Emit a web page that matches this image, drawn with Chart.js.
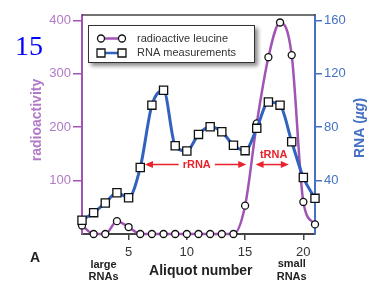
<!DOCTYPE html>
<html lang="en">
<head>
<meta charset="UTF-8">
<title>Radioactive leucine and RNA per aliquot</title>
<style>
  html, body { margin: 0; padding: 0; background: #fff; }
  #wrap { position: relative; width: 376px; height: 288px; }
</style>
</head>
<body>
<div id="wrap"><canvas id="chart" width="376" height="288"></canvas></div>
<script src="https://cdn.jsdelivr.net/npm/chart.js@4"></script>
<script>
// data
const aliquots = [1, 2, 3, 4, 5, 6, 7, 8, 9, 10, 11, 12, 13, 14, 15, 16, 17, 18, 19, 20, 21];
const leucine = [16, 0, 0, 24, 13, 0, 0, 0, 0, 0, 0, 0, 0, 0, 53, 207, 331, 396, 335, 60, 18];
const rnaUg = [10.3, 16, 23.2, 30.9, 27.2, 49.8, 96.5, 107.6, 66.1, 62.2, 74.6, 80.3, 76.6, 66.5, 62.4, 79.1, 98.9, 96.5, 69.1, 42.3, 26.7];
const xTicks = [5, 10, 15, 20];
const leftTicks = [100, 200, 300, 400];
const rightTicks = [40, 80, 120, 160];

const FONT = "'Liberation Sans', Arial, Helvetica, sans-serif";
const PURPLE = '#a054b4';
const PURPLE_TXT = '#b179c6';
const BLUE = '#3162be';
const BLUE_TXT = '#4471c4';
const RED = '#e8232b';
const DARK = '#222';

function arrowHead(ctx, x, y, dir) {
  ctx.beginPath();
  ctx.moveTo(x, y);
  ctx.lineTo(x - dir * 8, y - 3.5);
  ctx.lineTo(x - dir * 8, y + 3.5);
  ctx.closePath();
  ctx.fill();
}

function marker(ctx, style, cx, cy) {
  ctx.fillStyle = '#fff';
  ctx.strokeStyle = '#111';
  ctx.lineWidth = 1.3;
  ctx.beginPath();
  if (style === 'circle') ctx.arc(cx, cy, 3.5, 0, Math.PI * 2);
  else ctx.rect(cx - 4, cy - 4, 8, 8);
  ctx.fill();
  ctx.stroke();
}

const overlay = {
  id: 'overlay',
  afterDraw(chart) {
    const ctx = chart.ctx;
    const a = chart.chartArea;
    const x = chart.scales.x;
    const y = chart.scales.y;
    ctx.save();

    // top of the frame
    ctx.strokeStyle = '#444';
    ctx.lineWidth = 1.5;
    ctx.beginPath();
    ctx.moveTo(a.left, a.top);
    ctx.lineTo(a.right, a.top);
    ctx.stroke();

    // legend box with shadow
    ctx.save();
    ctx.shadowColor = 'rgba(0,0,0,0.45)';
    ctx.shadowBlur = 4;
    ctx.shadowOffsetX = 3;
    ctx.shadowOffsetY = 3;
    ctx.fillStyle = '#fff';
    ctx.fillRect(88, 25, 167, 38);
    ctx.restore();
    ctx.strokeStyle = '#333';
    ctx.lineWidth = 1;
    ctx.strokeRect(88.5, 25.5, 166, 37);

    const rows = [
      { label: chart.data.datasets[0].label, color: PURPLE, style: 'circle', yy: 38.5 },
      { label: chart.data.datasets[1].label, color: BLUE, style: 'rect', yy: 53 }
    ];
    rows.forEach(r => {
      ctx.strokeStyle = r.color;
      ctx.lineWidth = 2.5;
      ctx.beginPath();
      ctx.moveTo(101, r.yy);
      ctx.lineTo(122, r.yy);
      ctx.stroke();
      marker(ctx, r.style, 101, r.yy);
      marker(ctx, r.style, 122, r.yy);
      ctx.fillStyle = '#333';
      ctx.font = '11px ' + FONT;
      ctx.textAlign = 'left';
      ctx.textBaseline = 'middle';
      ctx.fillText(r.label, 137, r.yy);
    });

    // rRNA / tRNA arrows
    ctx.fillStyle = RED;
    ctx.strokeStyle = RED;
    ctx.lineWidth = 1.5;
    ctx.font = 'bold 11px ' + FONT;
    ctx.textAlign = 'center';
    ctx.textBaseline = 'middle';

    const ay = y.getPixelForValue(130);
    const r1 = x.getPixelForValue(6.4), r2 = x.getPixelForValue(15.1), rt = x.getPixelForValue(10.85);
    const rw = ctx.measureText('rRNA').width;
    ctx.fillText('rRNA', rt, ay + 0.5);
    ctx.beginPath();
    ctx.moveTo(r1 + 4, ay); ctx.lineTo(rt - rw / 2 - 4, ay);
    ctx.moveTo(rt + rw / 2 + 4, ay); ctx.lineTo(r2 - 4, ay);
    ctx.stroke();
    arrowHead(ctx, r1, ay, -1);
    arrowHead(ctx, r2, ay, 1);

    const t1 = x.getPixelForValue(15.9), t2 = x.getPixelForValue(18.75);
    ctx.fillText('tRNA', x.getPixelForValue(17.45), y.getPixelForValue(148));
    ctx.beginPath();
    ctx.moveTo(t1 + 4, ay); ctx.lineTo(t2 - 4, ay);
    ctx.stroke();
    arrowHead(ctx, t1, ay, -1);
    arrowHead(ctx, t2, ay, 1);

    // axis titles
    ctx.font = 'bold 14px ' + FONT;
    ctx.fillStyle = PURPLE_TXT;
    ctx.save();
    ctx.translate(37, 120);
    ctx.rotate(-Math.PI / 2);
    ctx.fillText('radioactivity', 0, 0);
    ctx.restore();

    ctx.save();
    ctx.translate(360, 128);
    ctx.rotate(-Math.PI / 2);
    ctx.fillStyle = BLUE_TXT;
    ctx.textAlign = 'left';
    const parts = [['RNA (', 'bold 14px '], ['\u00b5g', 'italic bold 14px '], [')', 'bold 14px ']];
    let total = 0;
    parts.forEach(p => { ctx.font = p[1] + FONT; total += ctx.measureText(p[0]).width; });
    let px = -total / 2;
    parts.forEach(p => {
      ctx.font = p[1] + FONT;
      ctx.fillText(p[0], px, 0);
      px += ctx.measureText(p[0]).width;
    });
    ctx.restore();

    // bottom labels
    ctx.fillStyle = DARK;
    ctx.textAlign = 'center';
    ctx.font = 'bold 14px ' + FONT;
    ctx.fillText('Aliquot number', x.getPixelForValue(11.2), 271);
    ctx.fillText('A', 35, 258);
    ctx.font = 'bold 11px ' + FONT;
    const lx = x.getPixelForValue(2.85), sx = x.getPixelForValue(19);
    ctx.fillText('large', lx, 265);
    ctx.fillText('RNAs', lx, 277);
    ctx.fillText('small', sx, 264);
    ctx.fillText('RNAs', sx, 277);

    // page number
    ctx.fillStyle = '#0000ff';
    ctx.font = "28px 'Liberation Serif', 'Times New Roman', serif";
    ctx.textAlign = 'left';
    ctx.textBaseline = 'alphabetic';
    ctx.fillText('15', 15, 55);

    ctx.restore();
  }
};

new Chart(document.getElementById('chart'), {
  type: 'line',
  data: {
    labels: aliquots,
    datasets: [
      {
        label: 'radioactive leucine',
        data: leucine,
        yAxisID: 'y',
        borderColor: PURPLE,
        borderWidth: 2.5,
        cubicInterpolationMode: 'monotone',
        pointStyle: 'circle',
        pointRadius: 3.5,
        pointBorderWidth: 1.3,
        pointBorderColor: '#111',
        pointBackgroundColor: '#fff',
        clip: false,
        order: 1
      },
      {
        label: 'RNA measurements',
        data: rnaUg,
        yAxisID: 'y1',
        borderColor: BLUE,
        borderWidth: 3,
        cubicInterpolationMode: 'monotone',
        pointStyle: 'rect',
        pointRadius: 5.8,
        pointBorderWidth: 1.3,
        pointBorderColor: '#111',
        pointBackgroundColor: '#fff',
        clip: false,
        order: 0
      }
    ]
  },
  options: {
    responsive: false,
    animation: false,
    devicePixelRatio: 1,
    layout: { padding: { top: 15, bottom: 32, left: 0, right: 0 } },
    plugins: { legend: { display: false }, tooltip: { enabled: false } },
    scales: {
      x: {
        type: 'linear',
        min: 1,
        max: 21,
        afterBuildTicks: s => { s.ticks = xTicks.map(v => ({ value: v })); },
        afterFit: s => { s.height = 22; },
        grid: { display: true, drawOnChartArea: false, tickLength: 6, color: '#444', lineWidth: 1.5 },
        border: { display: true, color: '#444', width: 2 },
        ticks: { color: '#333', font: { family: FONT, size: 13 }, padding: 5, maxRotation: 0, autoSkip: false }
      },
      y: {
        position: 'left',
        min: 0,
        max: 410,
        afterBuildTicks: s => { s.ticks = leftTicks.map(v => ({ value: v })); },
        afterFit: s => { s.width = 82; },
        grid: { display: true, drawOnChartArea: false, tickLength: 9, color: PURPLE, lineWidth: 1.5 },
        border: { display: true, color: PURPLE, width: 2 },
        ticks: { color: PURPLE_TXT, font: { family: FONT, size: 13 }, padding: 2 }
      },
      y1: {
        position: 'right',
        min: 0,
        max: 164,
        afterBuildTicks: s => { s.ticks = rightTicks.map(v => ({ value: v })); },
        afterFit: s => { s.width = 61; },
        grid: { display: true, drawOnChartArea: false, tickLength: 7, color: BLUE_TXT, lineWidth: 1.5 },
        border: { display: true, color: BLUE_TXT, width: 2 },
        ticks: { color: BLUE_TXT, font: { family: FONT, size: 13 }, padding: 2 }
      }
    }
  },
  plugins: [overlay]
});
</script>
</body>
</html>
